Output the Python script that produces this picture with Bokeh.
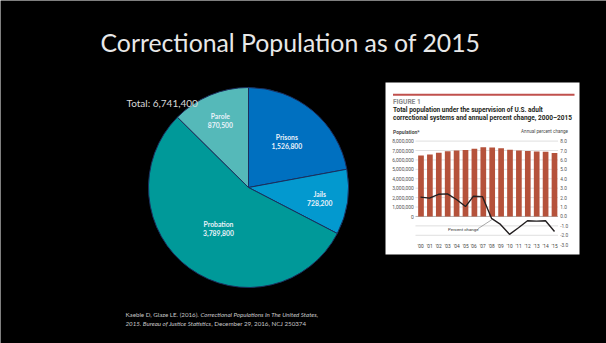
import numpy as np
from bokeh.plotting import figure
from bokeh.models import Range1d
from bokeh.core.properties import value
from bokeh.embed import file_html
from bokeh.resources import INLINE

W, H = 606, 343

# ---------------- data ----------------
segments = ["Prisons", "Jails", "Probation", "Parole"]
counts = [1526800, 728200, 3789800, 870500]
count_labels = ["1,526,800", "728,200", "3,789,800", "870,500"]
total_label = "Total: 6,741,400"
title = "Correctional Population as of 2015"

years = ["'00", "'01", "'02", "'03", "'04", "'05", "'06", "'07",
         "'08", "'09", "'10", "'11", "'12", "'13", "'14", "'15"]
population = [6467800, 6581700, 6758800, 6924500, 6995000, 7051900, 7181500, 7339600,
              7312600, 7239100, 7089000, 6994500, 6949800, 6899700, 6856900, 6741400]
pct_change = [2.05, 1.95, 2.35, 2.4, 1.8, 1.05, 2.15, 2.1,
              -0.2, -0.85, -1.9, -1.2, -0.45, -0.5, -0.45, -1.6]
pop_ticks = [0, 1000000, 2000000, 3000000, 4000000, 5000000, 6000000, 7000000, 8000000]
pop_tick_labels = ["0", "1,000,000", "2,000,000", "3,000,000", "4,000,000",
                   "5,000,000", "6,000,000", "7,000,000", "8,000,000"]
pct_ticks = [8, 7, 6, 5, 4, 3, 2, 1, 0, -1, -2, -3]
pct_tick_labels = ["8.0", "7.0", "6.0", "5.0", "4.0", "3.0", "2.0", "1.0",
                   "0.0", "-1.0", "-2.0", "-3.0"]
grid_levels = [8, 7, 6, 5, 4, 3, 2, 1, -1, -2]

# ---------------- styles ----------------
seg_colors = ["#0070C0", "#0399CF", "#009999", "#55B9B9"]
label_r = [0.60, 0.72, 0.51, 0.73]
FONT = value("Lato")
IFONT = value("Roboto")


def Y(py):
    return H - py


p = figure(width=W, height=H, x_range=Range1d(0, W), y_range=Range1d(0, H),
           output_backend="svg", toolbar_location=None, min_border=0,
           x_axis_type=None, y_axis_type=None,
           background_fill_color="black", border_fill_color="black",
           outline_line_color=None)
p.grid.visible = False

# title
p.text(x=[100], y=[Y(42)], text=[title], text_font=FONT, text_font_size="24.8px",
       text_color="#e8e8e8", text_baseline="middle", text_align="left")

# pie
cx, cy, R = 248, Y(187), 100
vals = np.array(counts, dtype=float)
ang = vals / vals.sum() * 2 * np.pi
cum = np.cumsum(ang)
start = np.pi / 2 - (cum - ang)
end = np.pi / 2 - cum
p.wedge(x=cx, y=cy, radius=R, start_angle=start, end_angle=end, direction="clock",
        fill_color=seg_colors, line_color="#1B2F5E", line_width=1)

mid = np.pi / 2 - (cum - ang / 2)
lx = cx + R * np.array(label_r) * np.cos(mid)
ly = cy + R * np.array(label_r) * np.sin(mid)
p.text(x=lx, y=ly + 4.5, text=segments, text_font=FONT, text_font_style="bold",
       text_font_size="6.8px", text_color="#EAF2FA", text_align="center", text_baseline="middle")
p.text(x=lx, y=ly - 4.5, text=count_labels, text_font=FONT, text_font_style="bold",
       text_font_size="6.8px", text_color="#EAF2FA", text_align="center", text_baseline="middle")

p.text(x=[126], y=[Y(102)], text=[total_label], text_font=FONT, text_font_size="10px",
       text_color="#d9d9d9", text_align="left", text_baseline="middle")

# citation
cite_col = "#c8c8c8"
cite_fs = "6.2px"
p.text(x=[125], y=[Y(314)], text=["Kaeble D, Glaze LE. (2016)."], text_font=FONT,
       text_font_size=cite_fs, text_color=cite_col, text_baseline="middle")
p.text(x=[200], y=[Y(314)], text=["Correctional Populations In The United States,"], text_font=FONT,
       text_font_size=cite_fs, text_font_style="italic", text_color=cite_col, text_baseline="middle")
p.text(x=[125], y=[Y(323)], text=["2015. Bureau of Justice Statistics"], text_font=FONT,
       text_font_size=cite_fs, text_font_style="italic", text_color=cite_col, text_baseline="middle")
p.text(x=[210.8], y=[Y(323)], text=[", December 29, 2016, NCJ 250374"], text_font=FONT,
       text_font_size=cite_fs, text_color=cite_col, text_baseline="middle")

# ---------------- inset figure ----------------
p.quad(left=[385], right=[579], top=[Y(82)], bottom=[Y(254)], fill_color="white", line_color=None)
p.quad(left=[392.5], right=[574], top=[Y(93.2)], bottom=[Y(95.2)], fill_color="#C0504D", line_color=None)
p.text(x=[392.5], y=[Y(101.5)], text=["FIGURE 1"], text_font=IFONT, text_font_style="bold",
       text_font_size="6.6px", text_color="#8a8a8a", text_baseline="middle")
p.text(x=[392.5], y=[Y(109.3)], text=["Total population under the supervision of U.S. adult"],
       text_font=IFONT, text_font_style="bold", text_font_size="6.5px", text_color="#231F20",
       text_baseline="middle")
p.text(x=[392.5], y=[Y(117.5)], text=["correctional systems and annual percent change, 2000\u20132015"],
       text_font=IFONT, text_font_style="bold", text_font_size="6.5px", text_color="#231F20",
       text_baseline="middle")
p.text(x=[392.5], y=[Y(131)], text=["Population*"], text_font=IFONT, text_font_style="bold",
       text_font_size="5px", text_color="#4a4a4a", text_baseline="middle")
p.text(x=[567.5], y=[Y(131)], text=["Annual percent change"], text_font=IFONT,
       text_font_size="4.6px", text_color="#4a4a4a", text_baseline="middle", text_align="right")

x0px, x1px = 420.5, 554.0
idx = np.arange(len(years))
pop_sp = p.subplot(x_source=Range1d(0, len(years) - 1), y_source=Range1d(0, 8000000),
                   x_target=Range1d(x0px, x1px), y_target=Range1d(Y(216), Y(140.6)))
pct_sp = p.subplot(x_source=Range1d(0, len(years) - 1), y_source=Range1d(-3, 8),
                   x_target=Range1d(x0px, x1px), y_target=Range1d(Y(244.2), Y(140.6)))

pct_sp.segment(x0=-0.62, x1=15.4, y0=grid_levels, y1=grid_levels, line_color="#c9c9c9", line_width=0.6)
pct_sp.segment(x0=[-0.62], x1=[15.4], y0=[0], y1=[0], line_color="#8c8c8c", line_width=0.7)

pop_sp.quad(left=idx - 0.32, right=idx + 0.32, bottom=0, top=population,
            fill_color="#B5523B", line_color=None)
pct_sp.line(x=idx, y=pct_change, line_color="#231F20", line_width=1.4)

pop_sp.text(x=-0.8, y=pop_ticks, text=pop_tick_labels, text_font=IFONT, text_font_size="5px",
            text_color="#555555", text_align="right", text_baseline="middle")
pct_sp.text(x=15.65, y=pct_ticks, text=pct_tick_labels, text_font=IFONT, text_font_size="4.8px",
            text_color="#555555", text_align="left", text_baseline="middle")
pct_sp.text(x=idx, y=-3.16, text=years, text_font=IFONT, text_font_size="4.8px",
            text_color="#444444", text_align="center", text_baseline="middle")

# "Percent change" call-out
pct_sp.text(x=[4.75], y=[-1.38], text=["Percent change"], text_font=IFONT, text_font_size="4.4px",
            text_color="#333333", text_align="center", text_baseline="middle")
pct_sp.segment(x0=[6.4], y0=[-1.3], x1=[7.95], y1=[-0.35], line_color="#555555", line_width=0.5)

open("out.html", "w").write(file_html(p, INLINE))
